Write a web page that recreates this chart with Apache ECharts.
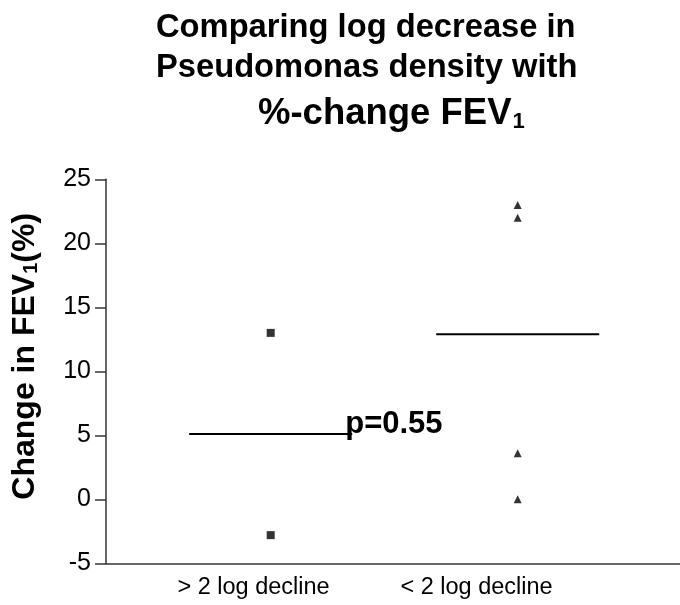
<!DOCTYPE html>
<html>
<head>
<meta charset="utf-8">
<title>Comparing log decrease in Pseudomonas density with %-change FEV1</title>
<script src="https://cdn.jsdelivr.net/npm/echarts@6/dist/echarts.min.js"></script>
<style>
  html, body { margin: 0; padding: 0; background: #ffffff; }
  #chart { width: 680px; height: 605px; }
</style>
</head>
<body>
<div id="chart"></div>
<script>
// Groups along the x axis
const categories = ['> 2 log decline', '< 2 log decline'];
// % change in FEV1 for each patient, by group
const moreThan2LogDecline = [13.0, -2.8];
const lessThan2LogDecline = [23.0, 22.0, 3.6, 0.0];
// Group medians (horizontal bars)
const groupMedians = [5.1, 12.9];
// Significance note next to the first median bar
const pValueText = 'p=0.55';
// Y axis range
const yMin = -5, yMax = 25, yStep = 5;

const FONT = "'Liberation Sans', Arial, sans-serif";
const AXIS_COLOR = '#333333';
const BAR_HALF = 0.33;

function groupPoints(groupIndex, values) {
  return values.map(v => [groupIndex, v]);
}
function medianBar(groupIndex, value) {
  return [[groupIndex - BAR_HALF, value], [groupIndex + BAR_HALF, value]];
}

const chart = echarts.init(document.getElementById('chart'), null, { renderer: 'canvas' });

const titleStyle = { fontFamily: FONT, fontWeight: 'bold', color: '#000000' };

chart.setOption({
  backgroundColor: '#ffffff',
  animation: false,
  title: [
    { text: 'Comparing log decrease in', left: 151, top: 6,
      textStyle: Object.assign({ fontSize: 32.7, lineHeight: 33 }, titleStyle) },
    { text: 'Pseudomonas density with', left: 151, top: 46,
      textStyle: Object.assign({ fontSize: 32.7, lineHeight: 33 }, titleStyle) },
    { text: '%-change FEV{sub|1}', left: 253, top: 91,
      textStyle: Object.assign({
        fontSize: 36.5, lineHeight: 36,
        rich: { sub: { fontSize: 22, fontFamily: FONT, fontWeight: 'bold', color: '#000', padding: [16, 0, 0, 1] } }
      }, titleStyle) }
  ],
  grid: [
    { left: 106, right: 0, top: 179.3, bottom: 41.7, containLabel: false, outerBoundsMode: 'none' },
    // carries only the category labels under the plot
    { left: 142, width: 446, top: 179.3, bottom: 41.7, containLabel: false, outerBoundsMode: 'none' }
  ],
  xAxis: [
    {
      type: 'value', gridIndex: 0, min: 0.3332, max: 2.657,
      axisLine: { show: true, onZero: false, lineStyle: { color: AXIS_COLOR, width: 1.5 } },
      axisTick: { show: false }, axisLabel: { show: false }, splitLine: { show: false }
    },
    {
      type: 'category', gridIndex: 1, data: categories, boundaryGap: true,
      axisLine: { show: false }, axisTick: { show: false }, splitLine: { show: false },
      axisLabel: { margin: 12, fontFamily: FONT, fontSize: 23.5, color: '#000000' }
    }
  ],
  yAxis: [
    {
      type: 'value', gridIndex: 0, min: yMin, max: yMax, interval: yStep,
      name: 'Change in FEV{sub|1}(%)', nameLocation: 'middle', nameGap: 65,
      nameTextStyle: {
        fontFamily: FONT, fontSize: 32, fontWeight: 'bold', color: '#000000',
        padding: [0, 0, 0, 30],
        rich: { sub: { fontFamily: FONT, fontSize: 20, fontWeight: 'bold', color: '#000', padding: [12, 0, 0, 0] } }
      },
      axisLine: { show: true, lineStyle: { color: AXIS_COLOR, width: 1.5 } },
      axisTick: { show: true, length: 11, lineStyle: { color: AXIS_COLOR, width: 1.5 } },
      axisLabel: { margin: 15, fontFamily: FONT, fontSize: 25, color: '#000000' },
      splitLine: { show: false }
    },
    { type: 'value', gridIndex: 1, show: false, min: yMin, max: yMax }
  ],
  series: [
    {
      name: categories[0], type: 'scatter', xAxisIndex: 0, yAxisIndex: 0,
      symbol: 'rect', symbolSize: 8, itemStyle: { color: '#000000' },
      data: groupPoints(1, moreThan2LogDecline)
    },
    {
      name: categories[1], type: 'scatter', xAxisIndex: 0, yAxisIndex: 0,
      symbol: 'triangle', symbolSize: 8, itemStyle: { color: '#000000' },
      data: groupPoints(2, lessThan2LogDecline)
    },
    {
      name: 'median ' + categories[0], type: 'line', xAxisIndex: 0, yAxisIndex: 0,
      showSymbol: false, lineStyle: { color: '#000000', width: 2 },
      data: medianBar(1, groupMedians[0]),
      endLabel: {
        show: true, formatter: pValueText, distance: -7, offset: [0, -10],
        fontFamily: FONT, fontSize: 31, fontWeight: 'bold', color: '#000000'
      }
    },
    {
      name: 'median ' + categories[1], type: 'line', xAxisIndex: 0, yAxisIndex: 0,
      showSymbol: false, lineStyle: { color: '#000000', width: 2 },
      data: medianBar(2, groupMedians[1])
    }
  ]
});
</script>
</body>
</html>
